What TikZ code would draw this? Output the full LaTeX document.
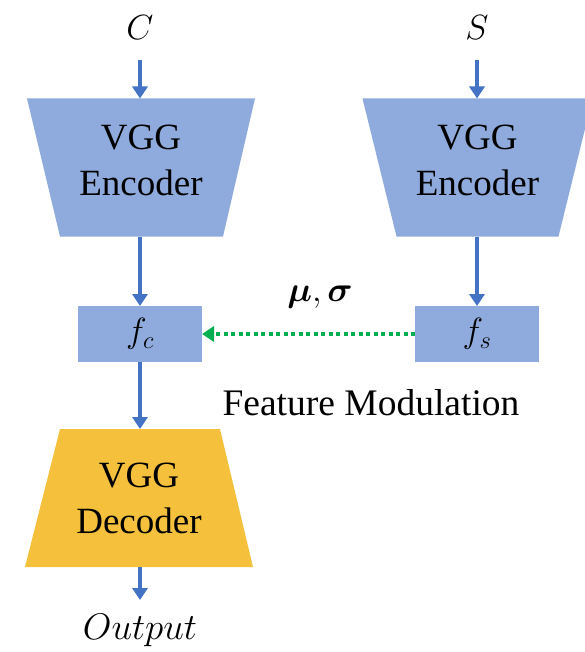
\RequirePackage{fix-cm}
\documentclass[tikz,border=0pt]{standalone}
\usepackage{fontspec}
\setmainfont{Liberation Serif}
\usepackage{amsmath}
\usepackage{bm}
\usetikzlibrary{arrows.meta,calc}

\definecolor{blockblue}{RGB}{143,170,220}
\definecolor{arrowblue}{RGB}{68,114,196}
\definecolor{decgold}{RGB}{245,193,60}
\definecolor{modgreen}{RGB}{0,176,80}

\begin{document}
\begin{tikzpicture}[x=1pt,y=-1pt,
  every node/.style={inner sep=0pt, outer sep=0pt},
  lbl/.style={font=\fontsize{37}{46}\selectfont, align=center},
  mathlbl/.style={font=\fontsize{35}{40}\selectfont},
  featbox/.style={fill=blockblue, minimum width=124pt, minimum height=56pt},
  frame/.style={minimum width=#1, minimum height=138pt},
  flow/.style={draw=arrowblue, line width=3.5pt,
    -{Triangle[width=15pt,length=12pt]}},
  modflow/.style={draw=modgreen, line width=4pt,
    dash pattern=on 4pt off 3.5pt,
    -{Triangle[width=15pt,length=12pt]}}]

\useasboundingbox (0,0) rectangle (585,652);
\clip (0,0) rectangle (585,652);

% inputs
\node[mathlbl] (c) at (140,28) {$C$};
\node[mathlbl] (s) at (477,28) {$S$};

% content encoder
\node[frame=228pt] (encC) at (141,167.5) {};
\fill[blockblue] (encC.north west) -- (encC.north east)
  -- ($(encC.south east)+(-32,0)$) -- ($(encC.south west)+(33,0)$) -- cycle;
\node[lbl] at ($(encC)+(0,-7)$) {VGG\\Encoder};

% style encoder
\node[frame=230pt] (encS) at (477.5,167.5) {};
\fill[blockblue] (encS.north west) -- (encS.north east)
  -- ($(encS.south east)+(-34,0)$) -- ($(encS.south west)+(34,0)$) -- cycle;
\node[lbl] at ($(encS)+(0,-7)$) {VGG\\Encoder};

% feature maps
\node[featbox] (fc) at (140,334) {};
\node[mathlbl] at (fc) {$f_c$};
\node[featbox] (fs) at (477,334) {};
\node[mathlbl] at (fs) {$f_s$};

% decoder
\node[frame=228pt] (dec) at (139,498) {};
\fill[decgold] ($(dec.north west)+(35,0)$) -- ($(dec.north east)+(-33,0)$)
  -- (dec.south east) -- (dec.south west) -- cycle;
\node[lbl] at (dec) {VGG\\Decoder};

% output
\node[font=\fontsize{37}{40}\selectfont] (out) at (140,630) {$Output$};

% data flow
\coordinate (cend) at (140,60);
\coordinate (send) at (477,60);
\coordinate (oend) at (140,600);
\draw[flow] (cend) -- (encC.north -| cend);
\draw[flow] (send) -- (encS.north -| send);
\draw[flow] (encC.south -| fc.north) -- (fc.north);
\draw[flow] (encS.south -| fs.north) -- (fs.north);
\draw[flow] (fc.south) -- (dec.north -| fc.south);
\draw[flow] (dec.south -| oend) -- (oend);

% modulation
\draw[modflow] (fs.west) -- (fc.east);
\node[mathlbl] (ms) at (320,297) {$\bm{\mu},\bm{\sigma}$};
\node[font=\fontsize{37.5}{40}\selectfont] (fm) at (371,403) {Feature Modulation};

\end{tikzpicture}
\end{document}
